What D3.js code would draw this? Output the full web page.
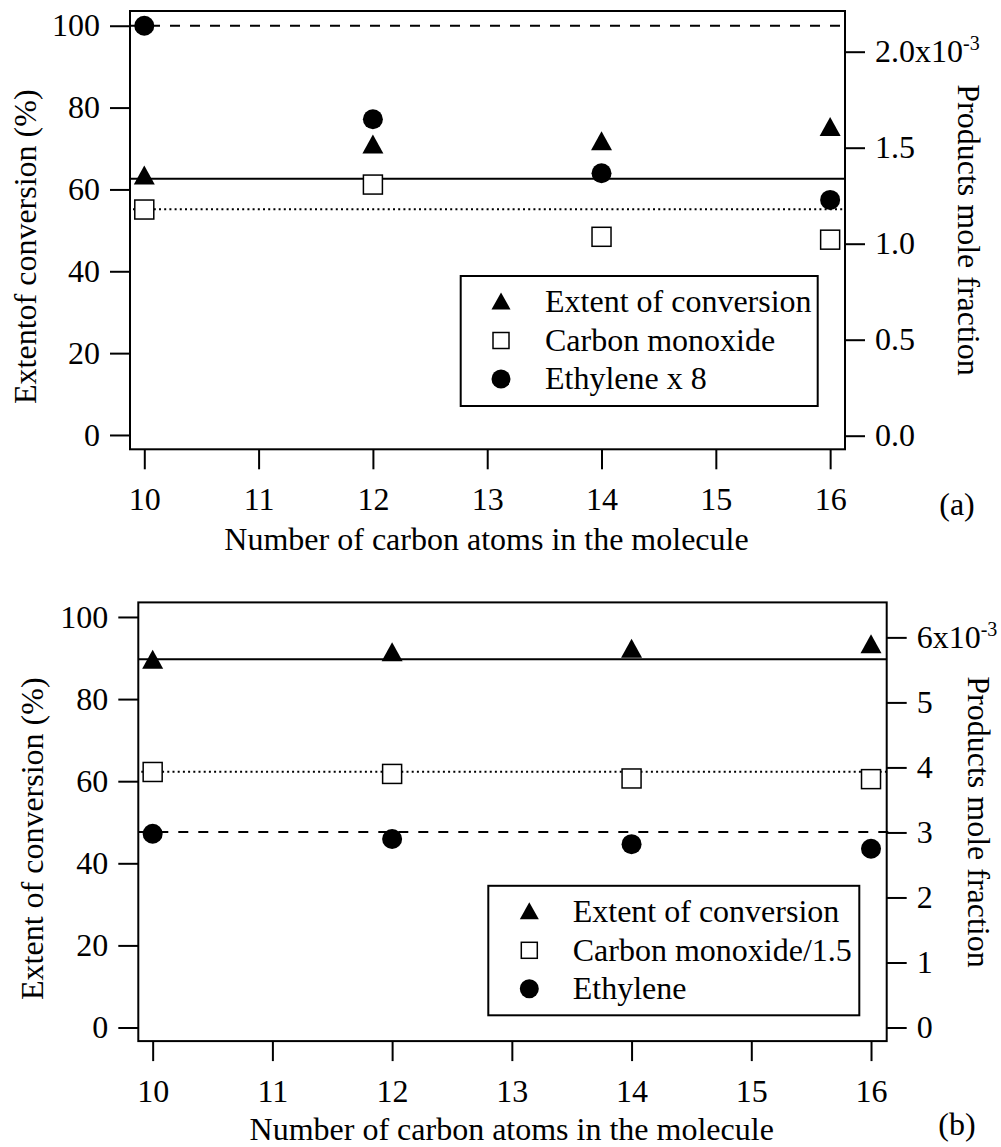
<!DOCTYPE html>
<html><head><meta charset="utf-8">
<script src="https://cdn.jsdelivr.net/npm/d3@7"></script>
<style>
html,body{margin:0;padding:0;background:#fff;}
svg{display:block;}
text{font-family:"Liberation Serif","Times New Roman",serif;fill:#000;}
</style></head>
<body>
<svg id="chart" width="1001" height="1147"></svg>
<script>
// ---------- data ----------
const carbonAtoms = [10, 12, 14, 16];
const xTicks = [10, 11, 12, 13, 14, 15, 16];

// Panel (a)
const convA = [63.5, 71.1, 71.9, 75.4];                 // %
const coA = [1.178e-3, 1.308e-3, 1.036e-3, 1.021e-3];   // mole fraction
const ethA = [2.135e-3, 1.648e-3, 1.367e-3, 1.228e-3];  // mole fraction (x 8)
const refA = {conv: 62.6, co: 1.18e-3, eth: 2.135e-3};
const leftTicksA = [0, 20, 40, 60, 80, 100];
const rightTicksA = [0, 0.5e-3, 1.0e-3, 1.5e-3, 2.0e-3];
const legendA = ["Extent of conversion", "Carbon monoxide", "Ethylene x 8"];

// Panel (b)
const convB = [89.7, 91.5, 92.4, 93.5];
const coB = [3.93e-3, 3.90e-3, 3.83e-3, 3.82e-3];       // CO / 1.5
const ethB = [2.98e-3, 2.90e-3, 2.82e-3, 2.75e-3];
const refB = {conv: 89.7, co: 3.935e-3, eth: 3.006e-3};
const leftTicksB = [0, 20, 40, 60, 80, 100];
const rightTicksB = [0, 1e-3, 2e-3, 3e-3, 4e-3, 5e-3, 6e-3];
const legendB = ["Extent of conversion", "Carbon monoxide/1.5", "Ethylene"];

// ---------- drawing ----------
const svg = d3.select("#chart");
const FS = 32;

function triPath(w, h){ return `M0,${-h/2}L${w/2},${h/2}L${-w/2},${h/2}Z`; }

function drawPanel(cfg){
  const g = svg.append("g");
  const {box} = cfg;
  const x = d3.scaleLinear().domain(cfg.xDom).range([box.l, box.r]);
  const yL = d3.scaleLinear().domain(cfg.yLDom).range([box.b, box.t]);
  const yR = d3.scaleLinear().domain(cfg.yRDom).range([box.b, box.t]);

  // reference lines
  g.append("line").attr("x1", box.l).attr("x2", box.r)
    .attr("y1", yL(cfg.ref.conv)).attr("y2", yL(cfg.ref.conv))
    .attr("stroke", "#000").attr("stroke-width", 2);
  g.append("line").attr("x1", box.l + 3).attr("x2", box.r)
    .attr("y1", yR(cfg.ref.co)).attr("y2", yR(cfg.ref.co))
    .attr("stroke", "#000").attr("stroke-width", 2).attr("stroke-dasharray", "2,3.2");
  g.append("line").attr("x1", box.l).attr("x2", box.r + 3)
    .attr("y1", yR(cfg.ref.eth)).attr("y2", yR(cfg.ref.eth))
    .attr("stroke", "#000").attr("stroke-width", 2).attr("stroke-dasharray", "10,10");

  // frame
  g.append("rect").attr("x", box.l).attr("y", box.t)
    .attr("width", box.r - box.l).attr("height", box.b - box.t)
    .attr("fill", "none").attr("stroke", "#000").attr("stroke-width", 2);

  // axes
  const styleAxis = sel => {
    sel.attr("font-family", null);
    sel.select(".domain").remove();
    sel.selectAll("line").attr("stroke-width", 2);
    sel.selectAll("text").style("font-size", FS + "px").style("font-family", "'Liberation Serif', serif");
  };
  g.append("g").attr("transform", `translate(0,${box.b})`)
    .call(d3.axisBottom(x).tickValues(xTicks).tickFormat(d3.format("d")).tickSize(20).tickPadding(18).tickSizeOuter(0))
    .call(styleAxis);
  g.append("g").attr("transform", `translate(${box.l},0)`)
    .call(d3.axisLeft(yL).tickValues(cfg.leftTicks).tickFormat(d3.format("d")).tickSize(20).tickPadding(10).tickSizeOuter(0))
    .call(styleAxis);
  const axR = g.append("g").attr("transform", `translate(${box.r},0)`)
    .call(d3.axisRight(yR).tickValues(cfg.rightTicks).tickFormat(cfg.rightFmt).tickSize(20).tickPadding(10).tickSizeOuter(0))
    .call(styleAxis);
  // exponent on the last right tick
  const lastT = axR.selectAll(".tick text").filter((d, i, n) => i === n.length - 1);
  lastT.append("tspan").text("x10");
  lastT.append("tspan").attr("dy", "-0.6em").style("font-size", "20px").text("-3");

  // markers
  const mg = g.append("g");
  mg.selectAll("path.tri").data(carbonAtoms).join("path")
    .attr("d", triPath(21, 19))
    .attr("transform", (d, i) => `translate(${x(d)},${yL(cfg.conv[i])})`)
    .attr("fill", "#000");
  mg.selectAll("rect.sq").data(carbonAtoms).join("rect")
    .attr("x", (d) => x(d) - 9.5).attr("y", (d, i) => yR(cfg.co[i]) - 9.5)
    .attr("width", 19).attr("height", 19)
    .attr("fill", "#fff").attr("stroke", "#000").attr("stroke-width", 1.5);
  mg.selectAll("circle.ci").data(carbonAtoms).join("circle")
    .attr("cx", d => x(d)).attr("cy", (d, i) => yR(cfg.eth[i])).attr("r", 10)
    .attr("fill", "#000");

  // legend
  const L = cfg.legend;
  const lg = g.append("g");
  lg.append("rect").attr("x", L.x).attr("y", L.y).attr("width", L.w).attr("height", L.h)
    .attr("fill", "#fff").attr("stroke", "#000").attr("stroke-width", 2);
  const rows = [0, 1, 2];
  lg.selectAll("text").data(rows).join("text")
    .attr("x", L.tx).attr("y", i => L.y + 36 + i * 38.7)
    .style("font-size", FS + "px").text(i => cfg.legendLabels[i]);
  lg.append("path").attr("d", triPath(19, 17))
    .attr("transform", `translate(${L.mx},${L.y + 25})`).attr("fill", "#000");
  lg.append("rect").attr("x", L.mx - 8).attr("y", L.y + 64.5 - 8).attr("width", 16).attr("height", 16)
    .attr("fill", "#fff").attr("stroke", "#000").attr("stroke-width", 1.5);
  lg.append("circle").attr("cx", L.mx).attr("cy", L.y + 103).attr("r", 9.5).attr("fill", "#000");

  // titles
  g.append("text").attr("x", cfg.xTitle.x).attr("y", cfg.xTitle.y)
    .attr("text-anchor", "middle").style("font-size", FS + "px")
    .text("Number of carbon atoms in the molecule");
  g.append("text").attr("transform", `translate(${cfg.yLTitle.x},${cfg.yLTitle.y}) rotate(-90)`)
    .attr("text-anchor", "middle").style("font-size", FS + "px").text(cfg.yLTitle.text);
  g.append("text").attr("transform", `translate(${cfg.yRTitle.x},${cfg.yRTitle.y}) rotate(90)`)
    .attr("text-anchor", "middle").style("font-size", FS + "px").text("Products mole fraction");
  g.append("text").attr("x", cfg.tag.x).attr("y", cfg.tag.y)
    .attr("text-anchor", "middle").style("font-size", FS + "px").text(cfg.tag.text);
}

drawPanel({
  box: {l: 130, r: 845, t: 11, b: 449.3},
  xDom: [9.875, 16.13],
  yLDom: [-3.5, 103.6],
  yRDom: [-0.0708e-3, 2.212e-3],
  conv: convA, co: coA, eth: ethA, ref: refA,
  leftTicks: leftTicksA, rightTicks: rightTicksA,
  rightFmt: d => d3.format(".1f")(d * 1000),
  legend: {x: 460.7, y: 276, w: 357, h: 130, mx: 501, tx: 545},
  legendLabels: legendA,
  xTitle: {x: 486.5, y: 550},
  yLTitle: {x: 36, y: 246.7, text: "Extentof conversion (%)"},
  yRTitle: {x: 958, y: 230},
  tag: {x: 957, y: 515, text: "(a)"}
});

drawPanel({
  box: {l: 138.3, r: 886.7, t: 602.4, b: 1041.1},
  xDom: [9.880, 16.131],
  yLDom: [-3.31, 103.55],
  yRDom: [-0.209e-3, 6.538e-3],
  conv: convB, co: coB, eth: ethB, ref: refB,
  leftTicks: leftTicksB, rightTicks: rightTicksB,
  rightFmt: d => d3.format("d")(Math.round(d * 1000)),
  legend: {x: 488.3, y: 885.8, w: 371, h: 129.5, mx: 529.3, tx: 572.7},
  legendLabels: legendB,
  xTitle: {x: 511.7, y: 1140},
  yLTitle: {x: 43, y: 838.7, text: "Extent of conversion (%)"},
  yRTitle: {x: 968, y: 822},
  tag: {x: 957, y: 1135, text: "(b)"}
});
</script>
</body></html>
